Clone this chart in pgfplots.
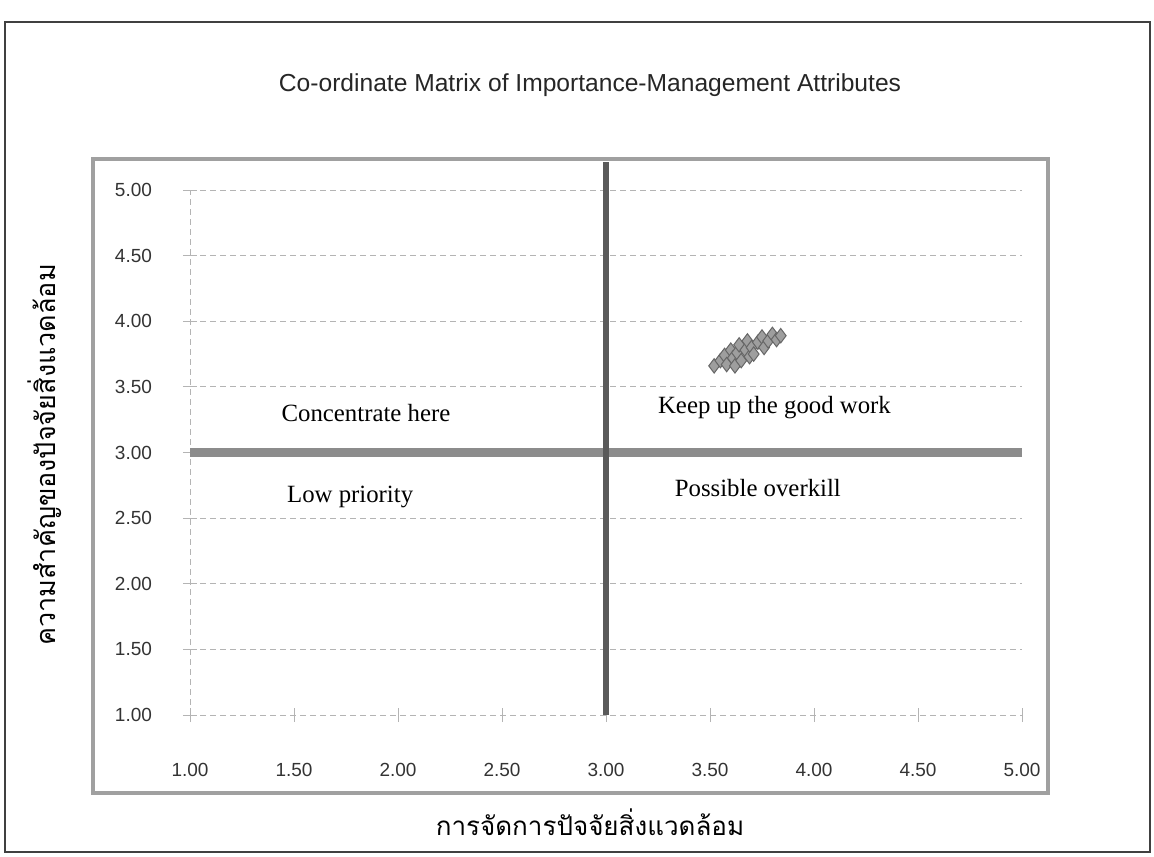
\documentclass[border=0pt]{standalone}
\usepackage{pgfplots}
\pgfplotsset{compat=1.18}
\usepackage{fontspec}
\setmainfont{Liberation Serif}
\newfontfamily\arial{Liberation Sans}
\newfontfamily\thaifont[Script=Thai]{Loma}
\definecolor{hline}{HTML}{8C8C8C}
\definecolor{vline}{HTML}{5A5A5A}
\definecolor{framec}{HTML}{A0A0A0}
\definecolor{gridc}{HTML}{B4B4B4}
\begin{document}
\begin{tikzpicture}[x=1pt,y=1pt]
\path[use as bounding box] (-95,-70.5) rectangle (482,357.5);
\draw[line width=1pt, black!75] (-92.5,-68.5) rectangle (480,346.5);
\draw[line width=2.4pt, framec] (-48.5,-39) rectangle (429,278);
\begin{axis}[
  at={(0,0)}, anchor=south west,
  scale only axis, width=416pt, height=262.5pt,
  xmin=1, xmax=5, ymin=1, ymax=5,
  xtick={1,1.5,...,5}, ytick={1,1.5,...,5},
  axis x line=bottom, axis y line=left,
  axis line style={gridc, densely dashed, thin, -},
  tick style={gridc, thin, solid},
  tick align=center, major tick length=7pt,
  xmajorgrids=false, ymajorgrids=true,
  grid style={gridc, densely dashed, thin},
  clip=false,
  /pgf/number format/assume math mode=true,
  /pgf/number format/.cd, fixed, fixed zerofill, precision=2, /pgfplots/.cd,
  tick label style={font=\arial\fontsize{9.5}{11}\selectfont, text=black!80},
  xticklabel style={yshift=-17pt},
  yticklabel style={xshift=-12pt},
]
\addplot[draw=hline, line width=4.5pt, no marks] coordinates {(1,3) (5,3)};
\addplot[draw=vline, line width=3pt, no marks] coordinates {(3,1) (3,5.21)};
\addplot[only marks, mark=diamond*, mark size=3.6pt,
  mark options={fill=black!38, draw=black!60, line width=0.5pt}]
  coordinates {
  (3.52,3.66) (3.55,3.70) (3.57,3.74) (3.58,3.67) (3.60,3.78)
  (3.61,3.72) (3.62,3.66) (3.63,3.76) (3.64,3.82) (3.65,3.70)
  (3.67,3.78) (3.68,3.85) (3.69,3.73) (3.70,3.80) (3.71,3.75)
  (3.73,3.84) (3.75,3.88) (3.76,3.80) (3.78,3.85) (3.80,3.90)
  (3.82,3.86) (3.84,3.89)
  };
\node[font=\fontsize{12.4}{14}\selectfont] at (axis cs:1.846,3.30) {Concentrate here};
\node[font=\fontsize{12.4}{14}\selectfont] at (axis cs:1.77,2.66) {Low priority};
\node[font=\fontsize{12.4}{14}\selectfont] at (axis cs:3.81,3.34) {Keep up the good work};
\node[font=\fontsize{12.4}{14}\selectfont] at (axis cs:3.73,2.73) {Possible overkill};
\end{axis}
\node[font=\arial\fontsize{12.3}{14}\selectfont, text=black!85] at (200,315) {Co-ordinate Matrix of Importance-Management Attributes};
\node[font=\thaifont\fontsize{13}{15}\selectfont] at (200,-53.5) {การจัดการปัจจัยสิ่งแวดล้อม};
\node[font=\thaifont\fontsize{13.5}{15}\selectfont, rotate=90] at (-72.5,130) {ความสำคัญของปัจจัยสิ่งแวดล้อม};
\end{tikzpicture}
\end{document}
